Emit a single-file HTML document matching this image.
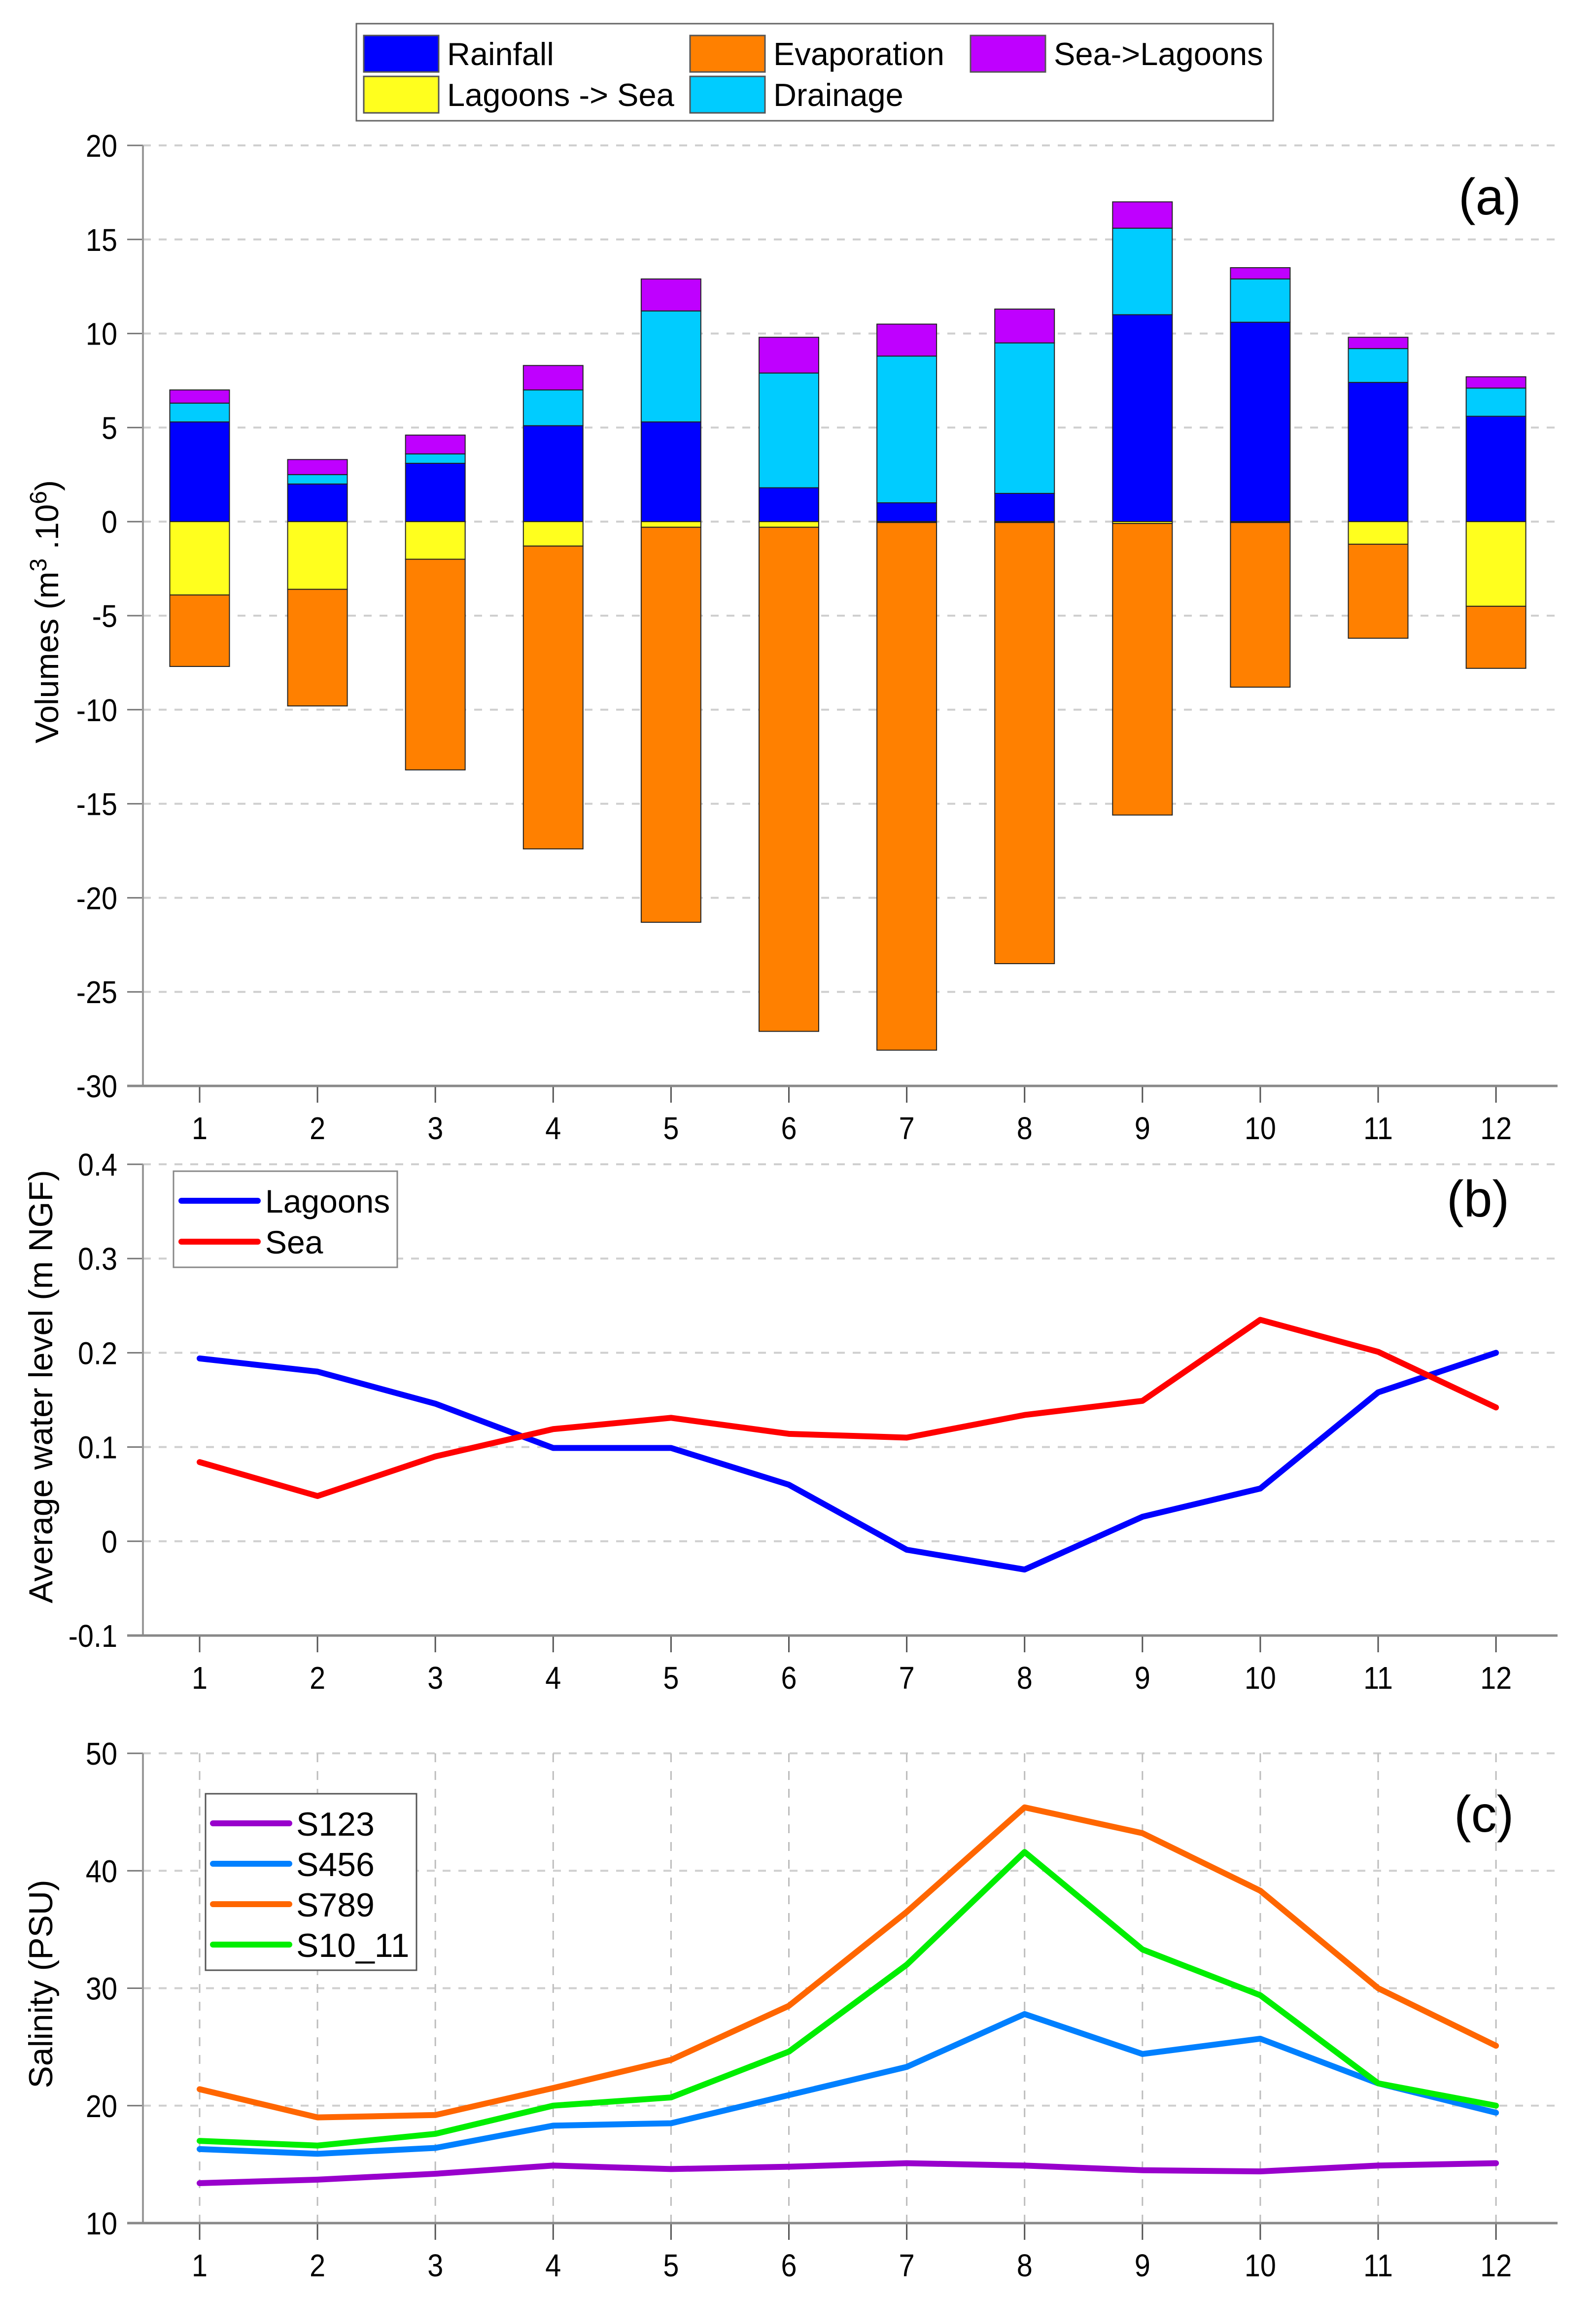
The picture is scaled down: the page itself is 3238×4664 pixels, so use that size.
<!DOCTYPE html>
<html><head><meta charset="utf-8"><style>
html,body{margin:0;padding:0;background:#fff}
svg{display:block}
text{font-family:"Liberation Sans",sans-serif;fill:#000}
</style></head><body>
<svg id="fig" width="3238" height="4664" viewBox="0 0 3238 4664" xmlns="http://www.w3.org/2000/svg">
<g id="pa"></g>
<g id="pb"></g>
<g id="pc"></g>
</svg>
<script>
// ---- data ----
const months = [1,2,3,4,5,6,7,8,9,10,11,12];
const rainfall = [5.3,2.0,3.1,5.1,5.3,1.8,1.0,1.5,11.0,10.6,7.4,5.6];
const drainage = [1.0,0.5,0.5,1.9,5.9,6.1,7.8,8.0,4.6,2.3,1.8,1.5];
const seaToLagoons = [0.7,0.8,1.0,1.3,1.7,1.9,1.7,1.8,1.4,0.6,0.6,0.6];
const lagoonsToSea = [3.9,3.6,2.0,1.3,0.3,0.3,0.05,0.05,0.1,0.05,1.2,4.5];
const evaporation = [3.8,6.2,11.2,16.1,21.0,26.8,28.05,23.45,15.5,8.75,5.0,3.3];
const volTicks = [20,15,10,5,0,-5,-10,-15,-20,-25,-30];
const levelLagoons = [0.194,0.180,0.146,0.099,0.099,0.060,-0.009,-0.030,0.026,0.056,0.158,0.200];
const levelSea = [0.084,0.048,0.090,0.119,0.131,0.114,0.110,0.134,0.149,0.235,0.201,0.142];
const levelTicks = [0.4,0.3,0.2,0.1,0,-0.1];
const levelTickLabels = ["0.4","0.3","0.2","0.1","0","-0.1"];
const s123 = [13.4,13.7,14.2,14.9,14.6,14.8,15.1,14.9,14.5,14.4,14.9,15.1];
const s456 = [16.3,15.9,16.4,18.3,18.5,20.9,23.3,27.8,24.4,25.7,21.9,19.4];
const s789 = [21.4,19.0,19.2,21.5,23.9,28.5,36.5,45.4,43.2,38.3,30.0,25.1];
const s1011 = [17.0,16.6,17.6,20.0,20.7,24.6,32.0,41.6,33.3,29.4,21.9,20.0];
const salTicks = [50,40,30,20,10];

const NS="http://www.w3.org/2000/svg";
function mk(parent,tag,attrs,txt){const e=document.createElementNS(NS,tag);for(const k in attrs)e.setAttribute(k,attrs[k]);if(txt!==undefined)e.textContent=txt;parent.appendChild(e);return e;}
const L=290,R=3160;
const xS=m=>405+(m-1)*239.1;
function axes(g,top,bot,ymin,ymax,ticks,labels,vgrid,name){
  const yS=v=>bot-(v-ymin)/(ymax-ymin)*(bot-top);
  ticks.forEach((t,i)=>{
    const y=yS(t);
    const gl=mk(g,'line',{x1:L,x2:R,y1:y,y2:y,stroke:'#cfcfcf','stroke-width':4,'stroke-dasharray':'16 16'});
    
    
    const tk=mk(g,'line',{x1:L-32,x2:L,y1:y,y2:y,stroke:'#777','stroke-width':3});
    
    
    const tl=mk(g,'text',{x:0,y:0,'font-size':64,'text-anchor':'end',transform:'translate('+(L-52)+','+(y+23)+') scale(0.9,1)'},labels?labels[i]:String(t));
    
    
  });
  months.forEach(m=>{
    const x=xS(m);
    if(vgrid){const vl=mk(g,'line',{x1:x,x2:x,y1:top,y2:bot,stroke:'#bdbdbd','stroke-width':3,'stroke-dasharray':'18 18'});
      
      }
    const tk=mk(g,'line',{x1:x,x2:x,y1:bot,y2:bot+34,stroke:'#555','stroke-width':3});
    
    
    const tl=mk(g,'text',{x:0,y:0,'font-size':64,'text-anchor':'middle',transform:'translate('+x+','+(bot+108)+') scale(0.9,1)'},String(m));
    
    
  });
  const ya=mk(g,'line',{x1:L,x2:L,y1:top,y2:bot,stroke:'#999','stroke-width':4});
  
  
  const xa=mk(g,'line',{x1:L-32,x2:R,y1:bot,y2:bot,stroke:'#888','stroke-width':5});
  
  
  return yS;
}
// ---- panel a ----
const ga=document.getElementById('pa');
const yA=axes(ga,295,2203,-30,20,volTicks,null,false,'panel-a');
const bw=121;
months.forEach((m,i)=>{
  const x=xS(m)-bw/2;
  let base=0;
  [[rainfall,'#0000ff','rainfall'],[drainage,'#00ccff','drainage'],[seaToLagoons,'#bf00ff','sea-to-lagoons']].forEach(([arr,c,n])=>{
    const v=arr[i];const r=mk(ga,'rect',{x:x,y:yA(base+v),width:bw,height:yA(base)-yA(base+v),fill:c,stroke:'#222','stroke-width':2});
    
    
    base+=v;
  });
  base=0;
  [[lagoonsToSea,'#ffff1e','lagoons-to-sea'],[evaporation,'#ff8000','evaporation']].forEach(([arr,c,n])=>{
    const v=arr[i];const r=mk(ga,'rect',{x:x,y:yA(base),width:bw,height:yA(base-v)-yA(base),fill:c,stroke:'#222','stroke-width':2});
    
    
    base-=v;
  });
});
// legend a
const lg=mk(ga,'g',{});


mk(lg,'rect',{x:723,y:48,width:1860,height:197,fill:'#fff',stroke:'#666','stroke-width':3});
[[738,72,'#0000ff','Rainfall'],[1400,72,'#ff8000','Evaporation'],[1969,72,'#bf00ff','Sea->Lagoons'],[738,155,'#ffff1e','Lagoons -> Sea'],[1400,155,'#00ccff','Drainage']].forEach(([x,y,c,t])=>{
  const s=mk(lg,'rect',{x:x,y:y,width:152,height:74,fill:c,stroke:'#555','stroke-width':3});
  
  
  const tx=mk(lg,'text',{x:x+169,y:y+60,'font-size':65},t);
  
  
});
const at=mk(ga,'text',{x:2959,y:435,'font-size':104},'(a)');


const ayt=mk(ga,'text',{x:0,y:0,'font-size':66,'text-anchor':'middle',transform:'translate(118,1241) rotate(-90)'});


ayt.innerHTML='Volumes (m<tspan dy="-24" font-size="48">3</tspan><tspan dy="24"> .10</tspan><tspan dy="-24" font-size="48">6</tspan><tspan dy="24">)</tspan>';

// ---- panel b ----
const gb=document.getElementById('pb');
const yB=axes(gb,2362,3318,-0.1,0.4,levelTicks,levelTickLabels,false,'panel-b');
function line(g,arr,yS,c,n){
  const p=mk(g,'polyline',{points:arr.map((v,i)=>xS(months[i])+','+yS(v)).join(' '),fill:'none',stroke:c,'stroke-width':12,'stroke-linejoin':'round','stroke-linecap':'round'});
  
  
}
line(gb,levelLagoons,yB,'#0000ff','lagoons');
line(gb,levelSea,yB,'#ff0000','sea');
const lb=mk(gb,'g',{});


mk(lb,'rect',{x:352,y:2376,width:454,height:195,fill:'#fff',stroke:'#888','stroke-width':3});
[[2436,'#0000ff','Lagoons'],[2519,'#ff0000','Sea']].forEach(([y,c,t])=>{
  mk(lb,'line',{x1:368,x2:523,y1:y,y2:y,stroke:c,'stroke-width':12,'stroke-linecap':'round'});
  const tx=mk(lb,'text',{x:538,y:y+24,'font-size':66},t);
  
  
});
const bt=mk(gb,'text',{x:2935,y:2468,'font-size':104},'(b)');


const byt=mk(gb,'text',{x:0,y:0,'font-size':68,'text-anchor':'middle',transform:'translate(106,2813) rotate(-90)'},'Average water level (m NGF)');



// ---- panel c ----
const gc=document.getElementById('pc');
const yC=axes(gc,3557,4510,10,50,salTicks,null,true,'panel-c');
line(gc,s123,yC,'#9900cc','s123');
line(gc,s456,yC,'#0080ff','s456');
line(gc,s789,yC,'#ff6600','s789');
line(gc,s1011,yC,'#00ee00','s10-11');
const lc=mk(gc,'g',{});


mk(lc,'rect',{x:417,y:3639,width:428,height:358,fill:'#fff',stroke:'#555','stroke-width':3});
[[3699,'#9900cc','S123'],[3781,'#0080ff','S456'],[3863,'#ff6600','S789'],[3945,'#00ee00','S10_11']].forEach(([y,c,t])=>{
  mk(lc,'line',{x1:432,x2:587,y1:y,y2:y,stroke:c,'stroke-width':12,'stroke-linecap':'round'});
  const tx=mk(lc,'text',{x:601,y:y+25,'font-size':68},t);
  
  
});
const ct=mk(gc,'text',{x:2950,y:3716,'font-size':104},'(c)');


const cyt=mk(gc,'text',{x:0,y:0,'font-size':68,'text-anchor':'middle',transform:'translate(106,4025) rotate(-90)'},'Salinity (PSU)');


</script>
</body></html>
